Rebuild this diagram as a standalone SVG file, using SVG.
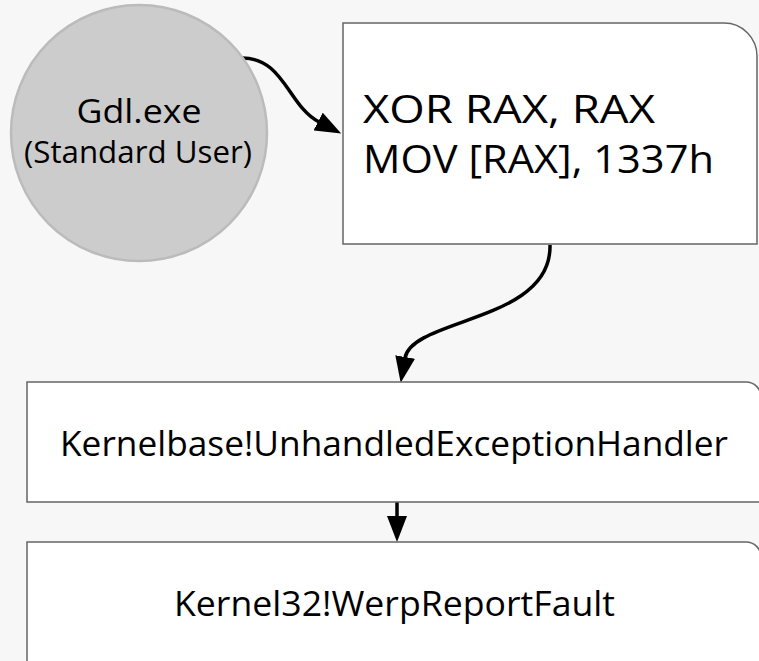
<svg xmlns="http://www.w3.org/2000/svg" width="759" height="661" viewBox="0 0 759 661">
  <style>
    .lbl { font-family: "Open Sans", "Lato", "DejaVu Sans", sans-serif; fill: #000; }
    .box { fill: #ffffff; stroke: #666666; stroke-width: 1.5; }
    .edge { fill: none; stroke: #000; stroke-width: 3.5; stroke-linecap: butt; }
  </style>
  <defs>
    <!-- head starts at the path end and reaches 26px beyond it -->
    <marker id="head" viewBox="0 0 26 20" refX="1" refY="10" markerWidth="26" markerHeight="20" markerUnits="userSpaceOnUse" orient="auto">
      <path d="M0,0 L26,10 L0,20 z" fill="#000"/>
    </marker>
  </defs>

  <rect width="759" height="661" fill="#f7f7f7"/>

  <!-- connectors -->
  <g id="connectors">
    <path class="edge" d="M241,58 C284,57 288,106 319,122" marker-end="url(#head)"/>
    <path class="edge" d="M550,245 C552,322 412,318 405,358" marker-end="url(#head)"/>
    <path class="edge" d="M397,502 L397,517" marker-end="url(#head)"/>
  </g>

  <!-- process node -->
  <g id="gdl">
    <circle cx="139" cy="133" r="128" fill="#cccccc" stroke="#bbbbbb" stroke-width="2.5"/>
    <text class="lbl" x="139" y="123" text-anchor="middle" font-size="32" textLength="125" lengthAdjust="spacingAndGlyphs">Gdl.exe</text>
    <text class="lbl" x="138" y="163" text-anchor="middle" font-size="31" textLength="228" lengthAdjust="spacingAndGlyphs">(Standard User)</text>
  </g>

  <!-- faulting instructions -->
  <g id="asm">
    <path class="box" d="M343,23 H724 A33,33 0 0 1 757,56 V244 H343 Z"/>
    <text class="lbl" x="363" y="123" font-size="39" textLength="292" lengthAdjust="spacingAndGlyphs">XOR RAX, RAX</text>
    <text class="lbl" x="363" y="173" font-size="39" textLength="351" lengthAdjust="spacingAndGlyphs">MOV [RAX], 1337h</text>
  </g>

  <!-- exception handler -->
  <g id="handler">
    <path class="box" d="M27,382 H746 A15,15 0 0 1 761,397 V502 H27 Z"/>
    <text class="lbl" x="394" y="456" text-anchor="middle" font-size="34" textLength="668" lengthAdjust="spacingAndGlyphs">Kernelbase!UnhandledExceptionHandler</text>
  </g>

  <!-- error reporting -->
  <g id="werp">
    <path class="box" d="M27,542 H746 A15,15 0 0 1 761,557 V680 H27 Z"/>
    <text class="lbl" x="394.5" y="616" text-anchor="middle" font-size="34" textLength="441" lengthAdjust="spacingAndGlyphs">Kernel32!WerpReportFault</text>
  </g>
</svg>
